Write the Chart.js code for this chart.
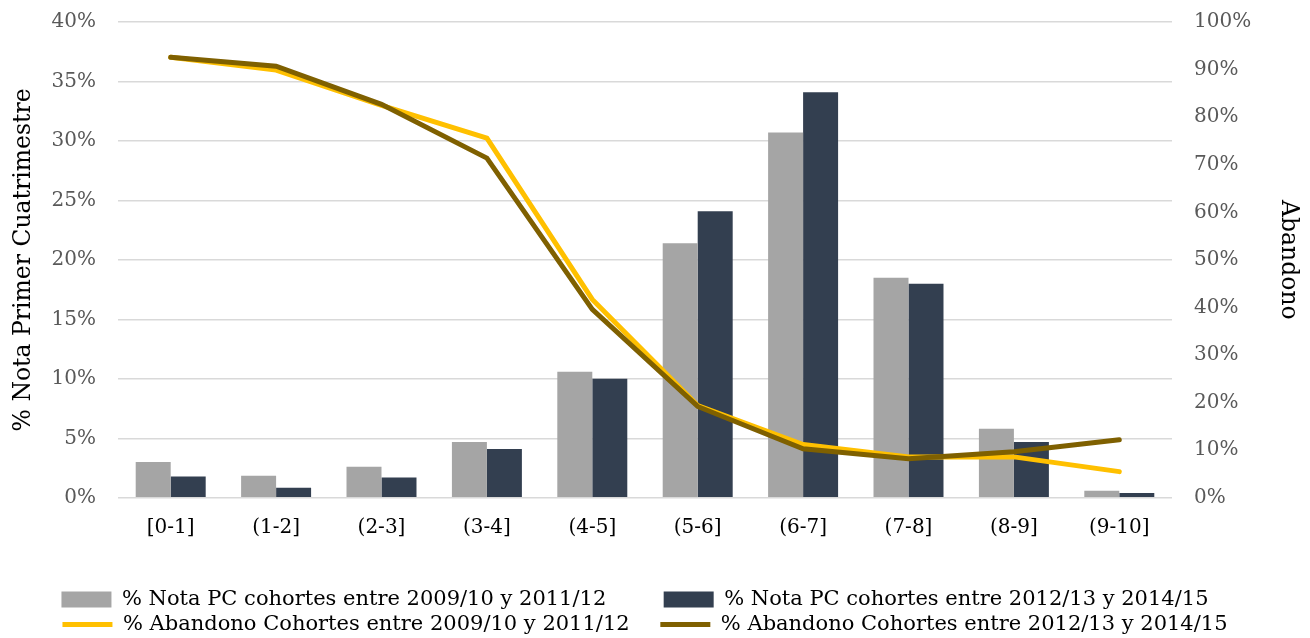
<!DOCTYPE html>
<html>
<head>
<meta charset="utf-8">
<script src="https://cdn.jsdelivr.net/npm/chart.js@4"></script>
<style>
  html, body { margin: 0; padding: 0; background: #fff; }
  #wrap { width: 1310px; height: 638px; }
</style>
</head>
<body>
<div id="wrap"><canvas id="chart"></canvas></div>
<script>
var tramos = ["[0-1]", "(1-2]", "(2-3]", "(3-4]", "(4-5]", "(5-6]", "(6-7]", "(7-8]", "(8-9]", "(9-10]"];

// % nota primer cuatrimestre (eje izquierdo)
var notaPC0912 = [3.0, 1.85, 2.6, 4.7, 10.6, 21.4, 30.7, 18.5, 5.8, 0.6];
var notaPC1215 = [1.8, 0.85, 1.7, 4.1, 10.0, 24.1, 34.1, 18.0, 4.7, 0.4];

// % abandono (eje derecho)
var abandono0912 = [92.6, 89.9, 82.5, 75.6, 41.7, 19.4, 11.2, 8.6, 8.6, 5.5];
var abandono1215 = [92.6, 90.7, 82.7, 71.4, 39.6, 19.2, 10.3, 8.2, 9.7, 12.2];

var fuente = "'DejaVu Serif', serif";

// baja un poco la leyenda hacia el borde inferior
const bajarLeyenda = {
  id: "bajarLeyenda",
  afterInit: function (chart) {
    var lg = chart.legend;
    var fit = lg.fit;
    lg.fit = function () {
      fit.call(lg);
      lg.height -= 7;
    };
  },
};

// el padding superior de los ejes y sale de ticks.padding; lo fijamos a mano
function ajustarEjeY(ancho) {
  return function (scale) {
    scale.width = ancho;
    scale.paddingTop = 22;
    scale.paddingBottom = 12;
  };
}

const data = {
  labels: tramos,
  datasets: [
    {
      type: "line",
      label: "% Abandono Cohortes entre 2009/10 y 2011/12",
      data: abandono0912,
      borderColor: "#FFC000",
      backgroundColor: "#FFC000",
      borderWidth: 5,
      borderCapStyle: "round",
      pointRadius: 0,
      pointStyle: "line",
      yAxisID: "y2",
      order: 2,
    },
    {
      type: "line",
      label: "% Abandono Cohortes entre 2012/13 y 2014/15",
      data: abandono1215,
      borderColor: "#7F6000",
      backgroundColor: "#7F6000",
      borderWidth: 5,
      borderCapStyle: "round",
      pointRadius: 0,
      pointStyle: "line",
      yAxisID: "y2",
      order: 1,
    },
    {
      label: "% Nota PC cohortes entre 2009/10 y 2011/12",
      data: notaPC0912,
      backgroundColor: "#A5A5A5",
      pointStyle: "rect",
      yAxisID: "y",
      order: 3,
    },
    {
      label: "% Nota PC cohortes entre 2012/13 y 2014/15",
      data: notaPC1215,
      backgroundColor: "#333F50",
      pointStyle: "rect",
      yAxisID: "y",
      order: 4,
    },
  ],
};

const config = {
  type: "bar",
  data: data,
  plugins: [bajarLeyenda],
  options: {
    responsive: true,
    maintainAspectRatio: false,
    animation: false,
    layout: { padding: { top: 0, left: 4, right: 4, bottom: 0 } },
    datasets: {
      bar: { categoryPercentage: 0.664, barPercentage: 1.0 },
    },
    plugins: {
      tooltip: { enabled: false },
      legend: {
        position: "bottom",
        title: {
          display: true,
          text: " ",
          font: { size: 1 },
          padding: { top: 34, bottom: 0 },
        },
        labels: {
          font: { family: fuente, size: 21 },
          color: "#000",
          usePointStyle: true,
          pointStyleWidth: 50,
          boxHeight: 16,
          padding: 4,
          generateLabels: function (chart) {
            var items = Chart.defaults.plugins.legend.labels.generateLabels(chart);
            // hueco entre columnas de la leyenda
            items.forEach(function (it) {
              if (it.datasetIndex === 2) it.text += "        ";
              if (it.datasetIndex === 3) it.text += "      ";
              if (it.datasetIndex === 0) it.text += "    ";
              if (it.datasetIndex === 1) it.text += "   ";
            });
            return items;
          },
          sort: function (a, b) {
            var ord = [2, 3, 0, 1];
            return ord.indexOf(a.datasetIndex) - ord.indexOf(b.datasetIndex);
          },
        },
      },
    },
    scales: {
      x: {
        grid: { display: false },
        border: { display: false },
        ticks: { font: { family: fuente, size: 20 }, color: "#000", padding: 10 },
      },
      y: {
        position: "left",
        min: 0,
        max: 40,
        afterFit: ajustarEjeY(114),
        ticks: {
          stepSize: 5,
          font: { family: fuente, size: 20 },
          color: "#595959",
          padding: 22,
          callback: function (v) { return v + "%"; },
        },
        grid: { color: "#D9D9D9", lineWidth: 1.5, drawTicks: false },
        border: { display: false },
        title: {
          display: true,
          text: "% Nota Primer Cuatrimestre",
          font: { family: fuente, size: 23.5 },
          color: "#000",
          padding: { top: 6, bottom: 4 },
        },
      },
      y2: {
        position: "right",
        min: 0,
        max: 100,
        afterFit: ajustarEjeY(134),
        ticks: {
          stepSize: 10,
          font: { family: fuente, size: 20 },
          color: "#595959",
          padding: 22,
          callback: function (v) { return v + "%"; },
        },
        grid: { display: false, drawTicks: false },
        border: { display: false },
        title: {
          display: true,
          text: "Abandono",
          font: { family: fuente, size: 23.5 },
          color: "#000",
          padding: { top: 4, bottom: 4 },
        },
      },
    },
  },
};

var myChart = new Chart(document.getElementById("chart"), config);
</script>
</body>
</html>
